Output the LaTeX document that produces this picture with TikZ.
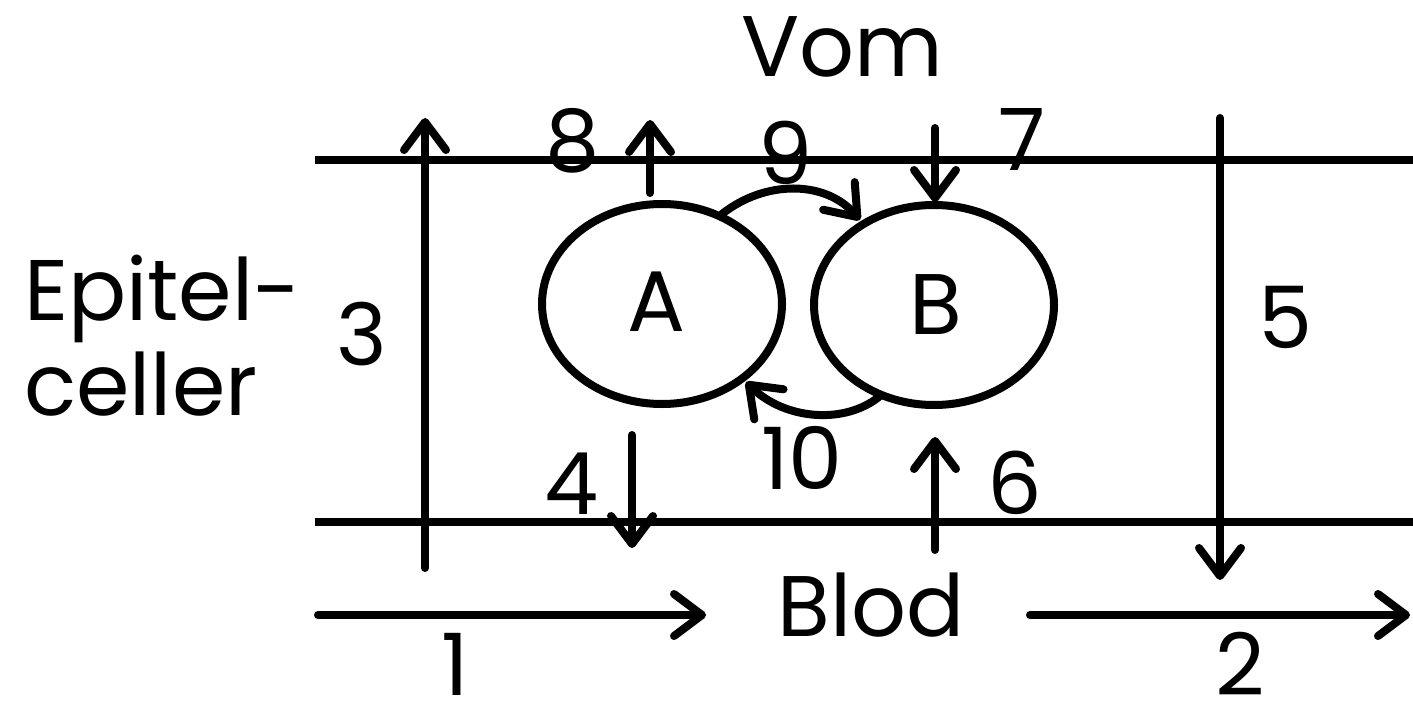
\documentclass[tikz,border=0pt]{standalone}
\usepackage{fontspec}
\setmainfont{Poppins}
\usetikzlibrary{arrows.meta,shapes.geometric}
\tikzset{
  lw/.style={line width=8pt, line cap=round, line join=round},
  arr/.style={lw, -{Straight Barb[length=28pt,width=42pt,line width=8pt,round]}},
  lbl/.style={font=\fontsize{86}{95}\selectfont, inner sep=0pt},
  cell/.style={draw, lw, ellipse, minimum width=240pt, minimum height=200pt, inner sep=0pt}
}
\begin{document}
\begin{tikzpicture}[x=1pt,y=-1pt]
\useasboundingbox (0,0) rectangle (1413,714);
% membranes
\coordinate (t1) at (315,160); \coordinate (t2) at (1413,160);
\coordinate (b1) at (315,522); \coordinate (b2) at (1413,522);
\draw[line width=8pt] (t1) -- (t2);
\draw[line width=8pt] (b1) -- (b2);
% cells
\node[cell] (A) at (662,304) {};
\node[lbl] at (656,302) {A};
\node[cell] (B) at (934,305) {};
\node[lbl] at (936,305) {B};
% vertical long arrows
\coordinate (s3) at (425,568); \coordinate (e3) at (425,118);
\draw[arr] (s3) -- (e3);
\coordinate (s5) at (1220,118); \coordinate (e5) at (1220,580);
\draw[arr] (s5) -- (e5);
% blood flow arrows
\coordinate (s1) at (318,615); \coordinate (e1) at (706,615);
\draw[arr] (s1) -- (e1);
\coordinate (s2) at (1030,615); \coordinate (e2) at (1410,615);
\draw[arr] (s2) -- (e2);
% short arrows
\coordinate (s8) at (650,193); \coordinate (e8) at (650,120);
\draw[arr] (s8) -- (e8);
\coordinate (s7) at (935,128); \coordinate (e7) at (935,202);
\draw[arr] (s7) -- (e7);
\coordinate (s4) at (632,435); \coordinate (e4) at (632,548);
\draw[arr] (s4) -- (e4);
\coordinate (s6) at (935,550); \coordinate (e6) at (935,437);
\draw[arr] (s6) -- (e6);
% curved arrows
\coordinate (s9) at (722,214); \coordinate (e9) at (860,220);
\draw[arr] (s9) .. controls (765,180) and (825,180) .. (e9);
\coordinate (s10) at (880,396); \coordinate (e10) at (746,382);
\draw[arr] (s10) .. controls (845,425) and (785,420) .. (e10);
% labels
\node[lbl] (vom) at (842,47) {Vom};
\node[lbl] (blod) at (871,605) {Blod};
\node[lbl, anchor=base west] (epi1) at (24,320) {Epitel-};
\node[lbl, anchor=base west] (epi2) at (24,415) {celler};
\node[lbl] (n1) at (455,664) {1};
\node[lbl] (n2) at (1240,664) {2};
\node[lbl] (n3) at (362,334) {3};
\node[lbl] (n4) at (572,484) {4};
\node[lbl] (n5) at (1285,317) {5};
\node[lbl] (n6) at (1015,483) {6};
\node[lbl] (n7) at (1022,139) {7};
\node[lbl] (n8) at (573,141) {8};
\node[lbl] (n9) at (786,153) {9};
\node[lbl] (n10) at (802,458) {10};
\end{tikzpicture}
\end{document}
